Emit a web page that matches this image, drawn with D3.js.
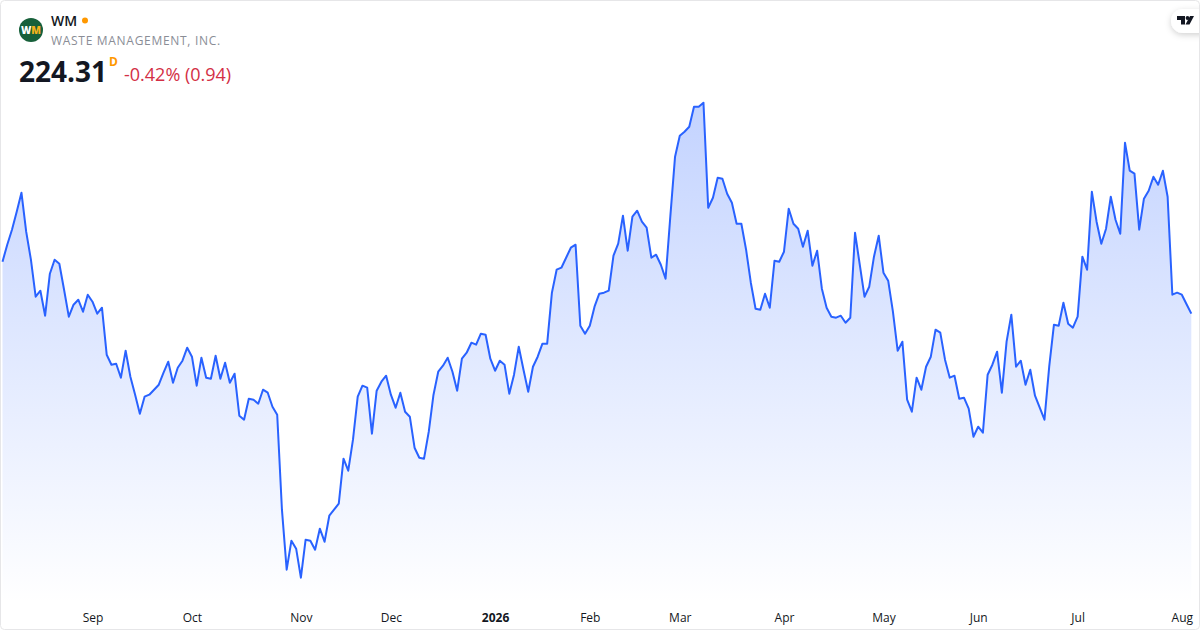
<!DOCTYPE html>
<html>
<head>
<meta charset="utf-8">
<script src="https://cdn.jsdelivr.net/npm/d3@7"></script>
<style>
    html, body { margin: 0; padding: 0; background: #fff; }
    svg { display: block; font-family: "Open Sans", sans-serif; }
</style>
</head>
<body>
<div id="chart"></div>
<script>
// Closing prices
const closes = [
    229.5, 231.2, 232.7, 234.5, 236.4, 232.5, 229.7, 226.0, 226.6, 224.1,
    228.3, 229.7, 229.3, 226.7, 224.0, 225.2, 225.7, 224.5, 226.2, 225.5,
    224.3, 224.9, 220.2, 219.2, 219.3, 217.9, 220.6, 218.0, 216.2, 214.3,
    216.0, 216.2, 216.7, 217.2, 218.4, 219.5, 217.4, 218.9, 219.6, 220.9,
    220.0, 217.1, 219.9, 217.9, 217.8, 220.1, 217.8, 219.4, 217.4, 218.3,
    214.1, 213.7, 215.8, 215.7, 215.3, 216.7, 216.4, 215.0, 214.2,
    204.7, 198.7, 201.6, 200.8, 197.9, 201.7, 201.6, 200.7, 202.8, 201.5,
    204.1, 204.7, 205.3, 209.8, 208.6, 211.7, 216.0, 217.1, 216.9, 212.3,
    216.6, 217.5, 218.1, 216.2, 214.9, 216.4, 214.5, 214.0, 210.9, 209.9,
    209.8, 212.5, 216.2, 218.5, 219.1, 219.9, 218.5, 216.6, 219.8, 220.4,
    221.4, 221.2, 222.3, 222.2, 219.8, 218.6, 219.6, 219.2, 216.3, 218.2,
    221.0, 218.7, 216.5, 219.0, 220.0, 221.3, 221.3,
    226.4, 228.7, 228.9, 229.9, 230.9, 231.2, 223.1, 222.3, 223.1, 225.0,
    226.3, 226.4, 226.6, 230.1, 231.3, 234.1, 230.6, 234.0, 234.6, 233.5,
    232.9, 229.9, 230.2, 229.2, 227.8, 234.0, 240.0, 242.1, 242.5, 243.0,
    245.0, 245.0, 245.4, 234.9, 235.9, 237.9, 237.8, 236.3, 235.4, 233.3,
    233.3, 230.7, 227.4, 224.8, 224.7, 226.3, 224.9, 229.6, 229.5, 230.5,
    234.8, 233.3, 232.8, 231.0, 232.6, 229.1, 230.6, 226.8, 224.9, 224.0, 223.9,
    224.1, 223.4, 223.9, 232.4, 229.2, 226.0, 227.0, 230.0, 232.1, 228.4,
    227.6, 224.5, 220.6, 221.5, 215.7, 214.5, 217.9, 216.7, 219.0, 220.0,
    222.7, 222.4, 219.7, 217.9, 218.1, 215.8, 215.9, 214.8, 212.0, 213.0,
    212.4, 218.2, 219.2, 220.5, 216.4, 221.5, 224.2, 219.0, 219.6, 217.2,
    218.7, 216.1, 214.9, 213.7, 219.0, 223.2, 223.1, 225.4, 223.3, 222.9,
    224.0, 230.0, 228.7, 236.5, 233.5, 231.3, 232.8, 236.0, 233.7, 232.3,
    241.4, 238.6, 238.3, 232.7, 235.8, 236.6, 238.0, 237.2, 238.6, 236.0,
    226.2, 226.4, 226.2, 225.25, 224.31
];

// Month labels and the trading day each one sits on
const tickDays = [19, 40, 63, 82, 104, 124, 143, 165, 186, 206, 227, 249];
const tickLabels = ["Sep", "Oct", "Nov", "Dec", "2026", "Feb", "Mar", "Apr", "May", "Jun", "Jul", "Aug"];

const WIDTH = 1200;
const HEIGHT = 630;
const LINE_COLOR = "#2962ff";

const svg = d3.select("#chart")
    .append("svg")
    .attr("width", WIDTH)
    .attr("height", HEIGHT);

const xScale = d3.scaleLinear()
    .domain([0, closes.length - 1])
    .range([2.5, 1191.3]);

const yScale = d3.scaleLinear()
    .domain([197.9, 245.4])
    .range([577.7, 102.7]);

// Gradient under the line
const defs = svg.append("defs");
const gradient = defs.append("linearGradient")
    .attr("id", "area-fill")
    .attr("gradientUnits", "userSpaceOnUse")
    .attr("x1", 0).attr("x2", 0)
    .attr("y1", yScale(245.4))
    .attr("y2", 604);
gradient.append("stop").attr("offset", 0).attr("stop-color", LINE_COLOR).attr("stop-opacity", 0.28);
gradient.append("stop").attr("offset", 1).attr("stop-color", LINE_COLOR).attr("stop-opacity", 0);

const shadow = defs.append("filter")
    .attr("id", "pill-shadow")
    .attr("x", "-50%").attr("y", "-50%")
    .attr("width", "200%").attr("height", "200%");
shadow.append("feDropShadow")
    .attr("dx", 0).attr("dy", 2)
    .attr("stdDeviation", 3)
    .attr("flood-color", "#000")
    .attr("flood-opacity", 0.18);

const area = d3.area()
    .x((d, i) => xScale(i))
    .y0(604)
    .y1(d => yScale(d));

const line = d3.line()
    .x((d, i) => xScale(i))
    .y(d => yScale(d));

svg.append("path")
    .datum(closes)
    .attr("d", area)
    .attr("fill", "url(#area-fill)");

svg.append("path")
    .datum(closes)
    .attr("d", line)
    .attr("fill", "none")
    .attr("stroke", LINE_COLOR)
    .attr("stroke-width", 2)
    .attr("stroke-linejoin", "round");

// Month axis
const xAxis = svg.append("g")
    .attr("transform", "translate(0,610)")
    .call(d3.axisBottom(xScale)
        .tickValues(tickDays)
        .tickSize(0)
        .tickPadding(3)
        .tickFormat((d, i) => tickLabels[i]));

xAxis.select(".domain").remove();
xAxis.selectAll("text")
    .attr("font-family", '"Open Sans", sans-serif')
    .attr("font-size", 12)
    .attr("font-weight", (d, i) => tickLabels[i] === "2026" ? 700 : 400)
    .attr("fill", "#131722");

// Logo
svg.append("circle")
    .attr("cx", 31).attr("cy", 30).attr("r", 12)
    .attr("fill", "#17603a");
const logoText = svg.append("text")
    .attr("x", 31).attr("y", 33.5)
    .attr("text-anchor", "middle")
    .attr("font-size", 10)
    .attr("font-weight", 800);
logoText.append("tspan").attr("fill", "#fff").text("W");
logoText.append("tspan").attr("fill", "#f5b21b").text("M");

// Header
svg.append("text")
    .attr("x", 51).attr("y", 26)
    .attr("font-size", 14)
    .attr("font-weight", 600)
    .attr("fill", "#131722")
    .text("WM");
svg.append("circle")
    .attr("cx", 85).attr("cy", 20.5).attr("r", 3)
    .attr("fill", "#ff9800");
svg.append("text")
    .attr("x", 51).attr("y", 45)
    .attr("font-size", 12)
    .attr("letter-spacing", 0.7)
    .attr("fill", "#8a8d96")
    .text("WASTE MANAGEMENT, INC.");
svg.append("text")
    .attr("x", 19).attr("y", 82)
    .attr("font-size", 28)
    .attr("font-weight", 700)
    .attr("fill", "#131722")
    .text("224.31");
svg.append("text")
    .attr("x", 109).attr("y", 66)
    .attr("font-size", 12)
    .attr("font-weight", 700)
    .attr("fill", "#ff9800")
    .text("D");
svg.append("text")
    .attr("x", 124).attr("y", 81)
    .attr("font-size", 18)
    .attr("fill", "#d32f45")
    .text("-0.42% (0.94)");

// TradingView badge in the corner
svg.append("rect")
    .attr("x", 1171).attr("y", 9)
    .attr("width", 50).attr("height", 24)
    .attr("rx", 12)
    .attr("fill", "#fff")
    .attr("filter", "url(#pill-shadow)");
svg.append("path")
    .attr("d", "M1177 16h8v8.5h-4v-4.5h-4z M1190 16h4l-4.5 8.5h-4z")
    .attr("fill", "#131722");
svg.append("circle")
    .attr("cx", 1187.5).attr("cy", 18).attr("r", 1.9)
    .attr("fill", "#131722");

// Card border
svg.append("rect")
    .attr("x", 0.5).attr("y", 0.5)
    .attr("width", WIDTH - 1).attr("height", HEIGHT - 1)
    .attr("rx", 4)
    .attr("fill", "none")
    .attr("stroke", "#e6e6e8");
</script>
</body>
</html>
